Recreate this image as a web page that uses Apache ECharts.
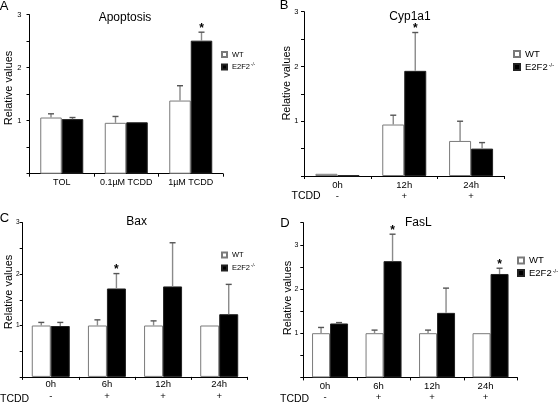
<!DOCTYPE html>
<html><head><meta charset="utf-8">
<script src="https://cdn.jsdelivr.net/npm/echarts@6/dist/echarts.min.js"></script>
<style>html,body{margin:0;padding:0;background:#fff}#c{width:560px;height:403px}</style>
</head><body><div id="c"></div>
<script>
const FONT = '"Liberation Sans", Arial, Helvetica, sans-serif';

// ---- Panel A: Apoptosis ----
const catA = ['TOL', '0.1µM TCDD', '1µM TCDD'];
const wtA = [1.06, 0.96, 1.38];
const wtErrA = [1.13, 1.08, 1.66];
const koA = [1.03, 0.97, 2.51];
const koErrA = [1.06, 0.97, 2.67];
const starA = [0, 0, 1];

// ---- Panel B: Cyp1a1 ----
const catB = ['0h', '12h', '24h'];
const tcddB = ['-', '+', '+'];
const wtB = [0.04, 0.94, 0.64];
const wtErrB = [0.04, 1.11, 1.00];
const koB = [0.01, 1.92, 0.50];
const koErrB = [0.01, 2.62, 0.61];
const starB = [0, 1, 0];

// ---- Panel C: Bax ----
const catC = ['0h', '6h', '12h', '24h'];
const tcddC = ['-', '+', '+', '+'];
const wtC = [1.0, 1.0, 1.0, 1.0];
const wtErrC = [1.06, 1.11, 1.09, 1.01];
const koC = [0.99, 1.72, 1.76, 1.22];
const koErrC = [1.06, 2.01, 2.61, 1.80];
const starC = [0, 1, 0, 0];

// ---- Panel D: FasL ----
const catD = ['0h', '6h', '12h', '24h'];
const tcddD = ['-', '+', '+', '+'];
const wtD = [1.0, 1.0, 1.0, 1.0];
const wtErrD = [1.13, 1.07, 1.07, 1.01];
const koD = [1.22, 2.63, 1.46, 2.34];
const koErrD = [1.24, 3.24, 2.02, 2.47];
const starD = [0, 1, 0, 1];

const titles = ['Apoptosis', 'Cyp1a1', 'Bax', 'FasL'];
const letters = ['A', 'B', 'C', 'D'];
const yTickLabels = ['1', '2', '3'];
const yMaxes = [3, 3, 3, 3.5];
const seriesNames = ['WT', 'E2F2'];
const rowLabel = 'TCDD';
const yName = 'Relative values';

const panels = [
  {cat: catA, row: null, wt: wtA, wtErr: wtErrA, ko: koA, koErr: koErrA, star: starA},
  {cat: catB, row: tcddB, wt: wtB, wtErr: wtErrB, ko: koB, koErr: koErrB, star: starB},
  {cat: catC, row: tcddC, wt: wtC, wtErr: wtErrC, ko: koC, koErr: koErrC, star: starC},
  {cat: catD, row: tcddD, wt: wtD, wtErr: wtErrD, ko: koD, koErr: koErrD, star: starD}
];

// ---- layout (positions / styles only) ----
const L = [
  {grid: {left: 29.5, top: 14.7, width: 193.5, height: 159}, barW: 21.5, yFont: 7.5, yMargin: 8,
   xFont: 9, xMargin: 3.5, xLH: 11, legend: {left: 221, top: 49.5, gap: 2.5, font: 7.5, icon: 5},
   letter: [4, 6.5], title: [125, 17.5], yname: [8.5, 88], rowPos: null, xPad: 0},
  {grid: {left: 304, top: 11.7, width: 200.5, height: 164.3}, barW: 22, yFont: 7.5, yMargin: 5.5,
   xFont: 9.5, xMargin: 3.5, xLH: 11, legend: {left: 513, top: 49, gap: 3, font: 9.5, icon: 6},
   letter: [284, 5], title: [410, 16.5], yname: [287, 83.3], rowPos: [291.5, 196.5], xPad: 0},
  {grid: {left: 22.7, top: 222.7, width: 224.6, height: 156.3}, barW: 19, yFont: 6.5, yMargin: 3,
   xFont: 9.5, xMargin: 1.5, xLH: 12.3, legend: {left: 221, top: 250, gap: 3, font: 7.5, icon: 5},
   letter: [4.5, 218.5], title: [136.7, 222], yname: [8.5, 292], rowPos: [0, 399], xPad: 0},
  {grid: {left: 303.3, top: 222.7, width: 214, height: 156.6}, barW: 18, yFont: 7, yMargin: 5,
   xFont: 9.5, xMargin: 3, xLH: 11.3, legend: {left: 517, top: 255.5, gap: 2.5, font: 9.5, icon: 6},
   letter: [285, 223], title: [418.3, 223], yname: [288, 298], rowPos: [280, 399.5], xPad: 10}
];

function errRender(sign, bw) {
  return function (params, api) {
    const i = api.value(0);
    const top = api.coord([i, api.value(1)]);
    const base = api.coord([i, api.value(2)]);
    const x = top[0] + sign * bw / 2;
    const children = [];
    if (api.value(1) - api.value(2) > 0.015) {
      children.push({type: 'line', shape: {x1: x, y1: base[1], x2: x, y2: top[1]},
        style: {stroke: '#8a8a8a', lineWidth: 1.4}});
      children.push({type: 'line', shape: {x1: x - 3, y1: top[1], x2: x + 3, y2: top[1]},
        style: {stroke: '#555', lineWidth: 1.4}});
    }
    if (api.value(3)) {
      children.push({type: 'text', x: x, y: top[1] - 4,
        style: {text: '*', font: 'bold 12px ' + FONT, fill: '#000',
                align: 'center', verticalAlign: 'middle', textAlign: 'center', textVerticalAlign: 'middle'}});
    }
    return {type: 'group', children: children};
  };
}

const grid = [], xAxis = [], yAxis = [], series = [], legend = [], graphic = [];

panels.forEach((p, k) => {
  const lay = L[k];
  grid.push(Object.assign({containLabel: false}, lay.grid));
  xAxis.push({
    type: 'category', gridIndex: k, data: p.cat, boundaryGap: true,
    axisLine: {lineStyle: {color: '#000', width: 1}},
    axisTick: {show: true, interval: 0, length: 3, lineStyle: {color: '#000'}},
    axisLabel: {
      interval: 0, fontFamily: FONT, fontSize: lay.xFont, color: '#000', margin: lay.xMargin,
      lineHeight: lay.xLH, padding: [0, lay.xPad, 0, 0],
      formatter: (v, i) => p.row ? v + '\n' + p.row[i] : v
    },
    splitLine: {show: false}
  });
  yAxis.push({
    type: 'value', gridIndex: k, min: 0, max: yMaxes[k], interval: 0.5,
    axisLine: {show: true, lineStyle: {color: '#000', width: 1}},
    axisTick: {show: true, length: 3, lineStyle: {color: '#000'}},
    axisLabel: {
      fontFamily: FONT, fontSize: lay.yFont, color: '#000', margin: lay.yMargin,
      showMaxLabel: true,
      formatter: v => yTickLabels.indexOf(String(v)) >= 0 ? String(v) : ''
    },
    splitLine: {show: false}
  });
  series.push({
    name: seriesNames[0], type: 'bar', xAxisIndex: k, yAxisIndex: k, data: p.wt,
    barWidth: lay.barW, barGap: '0%',
    itemStyle: {color: '#fff', borderColor: '#7a7a7a', borderWidth: 1}, silent: true, animation: false
  });
  series.push({
    name: seriesNames[1], type: 'bar', xAxisIndex: k, yAxisIndex: k, data: p.ko,
    barWidth: lay.barW, barGap: '0%',
    itemStyle: {color: '#000', borderColor: '#222', borderWidth: 1}, silent: true, animation: false
  });
  series.push({
    type: 'custom', xAxisIndex: k, yAxisIndex: k, z: 5, silent: true, animation: false,
    renderItem: errRender(-1, lay.barW),
    data: p.wt.map((v, i) => [i, p.wtErr[i], v, 0])
  });
  series.push({
    type: 'custom', xAxisIndex: k, yAxisIndex: k, z: 5, silent: true, animation: false,
    renderItem: errRender(1, lay.barW),
    data: p.ko.map((v, i) => [i, p.koErr[i], v, p.star[i]])
  });
  const lg = lay.legend;
  legend.push({
    data: seriesNames, orient: 'vertical', left: lg.left, top: lg.top, padding: 0,
    itemWidth: lg.icon, itemHeight: lg.icon, itemGap: lg.gap, selectedMode: false,
    icon: 'rect',
    textStyle: {fontFamily: FONT, fontSize: lg.font, color: '#000', lineHeight: 10,
      rich: {s: {fontFamily: FONT, fontSize: lg.font * 0.6, color: '#000', verticalAlign: 'top', lineHeight: 10, padding: [0, 0, 0, 1]}}},
    formatter: n => n === 'E2F2' ? 'E2F2{s|-/-}' : n
  });
  graphic.push({type: 'text', x: lay.letter[0], y: lay.letter[1], silent: true,
    style: {text: letters[k], font: '13px ' + FONT, fill: '#000', align: 'center', verticalAlign: 'middle',
            textAlign: 'center', textVerticalAlign: 'middle'}});
  graphic.push({type: 'text', x: lay.title[0], y: lay.title[1], silent: true,
    style: {text: titles[k], font: '12px ' + FONT, fill: '#000', align: 'center', verticalAlign: 'middle',
            textAlign: 'center', textVerticalAlign: 'middle'}});
  graphic.push({type: 'text', x: lay.yname[0], y: lay.yname[1], rotation: Math.PI / 2, silent: true,
    style: {text: yName, font: '11px ' + FONT, fill: '#000', align: 'center', verticalAlign: 'middle',
            textAlign: 'center', textVerticalAlign: 'middle'}});
  if (lay.rowPos) {
    graphic.push({type: 'text', x: lay.rowPos[0], y: lay.rowPos[1], silent: true,
      style: {text: rowLabel, font: '10.5px ' + FONT, fill: '#000', align: 'left', verticalAlign: 'middle',
              textAlign: 'left', textVerticalAlign: 'middle'}});
  }
});

const chart = echarts.init(document.getElementById('c'), null, {renderer: 'canvas'});
chart.setOption({
  backgroundColor: '#fff', animation: false,
  grid, xAxis, yAxis, series, legend, graphic
});
</script>
</body></html>
